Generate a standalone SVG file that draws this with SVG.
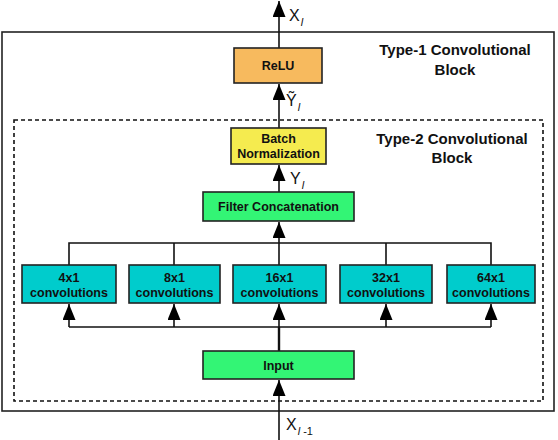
<svg xmlns="http://www.w3.org/2000/svg" width="558" height="440" viewBox="0 0 558 440">
<style>
  .box{stroke:#222;stroke-width:1.6}
  .relu{fill:#F7BA5E}
  .bn{fill:#F5EB4F}
  .green{fill:#33F575}
  .teal{fill:#00CCCC}
  .t{font-family:"Liberation Sans",Arial,sans-serif;font-weight:bold;font-size:12.5px;fill:#111;text-anchor:middle}
  .h{font-family:"Liberation Sans",Arial,sans-serif;font-weight:bold;font-size:15px;fill:#111;text-anchor:middle}
  .lab{font-family:"Liberation Sans",Arial,sans-serif;font-size:16px;fill:#111}
  .sub{font-family:"Liberation Sans",Arial,sans-serif;font-size:11px;font-style:italic;fill:#111}
  .subn{font-family:"Liberation Sans",Arial,sans-serif;font-size:11px;fill:#111}
  .c{stroke:#111;stroke-width:1.6;fill:none}
</style>
<defs>
  <marker id="ah" markerUnits="userSpaceOnUse" markerWidth="17" markerHeight="13" refX="16" refY="6.5" orient="auto" viewBox="0 0 17 13">
    <path d="M0,0 L16,6.5 L0,13 z" fill="#000"/>
  </marker>
</defs>
<rect width="558" height="440" fill="#fff"/>
<g id="outer-block">
  <rect x="2" y="32" width="552" height="379" fill="none" stroke="#222" stroke-width="1.6"/>
  <text class="h" x="455" y="55">Type-1 Convolutional</text>
  <text class="h" x="455" y="75">Block</text>
</g>
<g id="inner-block">
  <rect x="14" y="120" width="529" height="281" fill="none" stroke="#111" stroke-width="1.6" stroke-dasharray="4,3"/>
  <text class="h" x="452" y="144">Type-2 Convolutional</text>
  <text class="h" x="452" y="163">Block</text>
</g>
<g id="connectors">
  <line class="c" x1="279" y1="48" x2="279" y2="1" marker-end="url(#ah)"/>
  <line class="c" x1="279" y1="128" x2="279" y2="84" marker-end="url(#ah)"/>
  <line class="c" x1="279" y1="192" x2="279" y2="165" marker-end="url(#ah)"/>
  <line class="c" x1="279" y1="243" x2="279" y2="222" marker-end="url(#ah)"/>
  <polyline class="c" points="69,265 69,243 491,243 491,265"/>
  <line class="c" x1="174" y1="243" x2="174" y2="265"/>
  <line class="c" x1="279" y1="243" x2="279" y2="265"/>
  <line class="c" x1="386" y1="243" x2="386" y2="265"/>
  <line class="c" x1="69" y1="327" x2="491" y2="327"/>
  <line class="c" x1="69" y1="327" x2="69" y2="304" marker-end="url(#ah)"/>
  <line class="c" x1="174" y1="327" x2="174" y2="304" marker-end="url(#ah)"/>
  <line class="c" x1="279" y1="327" x2="279" y2="304" marker-end="url(#ah)"/>
  <line class="c" x1="386" y1="327" x2="386" y2="304" marker-end="url(#ah)"/>
  <line class="c" x1="491" y1="327" x2="491" y2="304" marker-end="url(#ah)"/>
  <line x1="279" y1="351" x2="279" y2="327" stroke="#111" stroke-width="2.4"/>
  <line class="c" x1="279" y1="440" x2="279" y2="380" marker-end="url(#ah)"/>
</g>
<g id="labels">
  <text class="lab" x="289" y="21">X<tspan class="sub" dx="1" dy="5">l</tspan></text>
  <text class="lab" x="286" y="106">Ỹ<tspan class="sub" dx="1" dy="5">l</tspan></text>
  <text class="lab" x="290" y="184">Y<tspan class="sub" dx="1" dy="5">l</tspan></text>
  <text class="lab" x="286" y="430">X<tspan class="sub" dx="1" dy="5">l</tspan><tspan class="subn"> -1</tspan></text>
</g>
<g id="relu">
  <rect class="box relu" x="234" y="48" width="88" height="35"/>
  <text class="t" x="278" y="70">ReLU</text>
</g>
<g id="batch-norm">
  <rect class="box bn" x="231" y="128" width="95" height="36"/>
  <text class="t" x="278.5" y="143">Batch</text>
  <text class="t" x="278.5" y="158">Normalization</text>
</g>
<g id="filter-concat">
  <rect class="box green" x="203" y="192" width="151" height="29"/>
  <text class="t" x="278.5" y="211">Filter Concatenation</text>
</g>
<g id="conv4">
  <rect class="box teal" x="22" y="265" width="94" height="38"/>
  <text class="t" x="69" y="282">4x1</text>
  <text class="t" x="69" y="297">convolutions</text>
</g>
<g id="conv8">
  <rect class="box teal" x="129" y="265" width="91" height="38"/>
  <text class="t" x="174.5" y="282">8x1</text>
  <text class="t" x="174.5" y="297">convolutions</text>
</g>
<g id="conv16">
  <rect class="box teal" x="233" y="265" width="93" height="38"/>
  <text class="t" x="279.5" y="282">16x1</text>
  <text class="t" x="279.5" y="297">convolutions</text>
</g>
<g id="conv32">
  <rect class="box teal" x="340" y="265" width="92" height="38"/>
  <text class="t" x="386" y="282">32x1</text>
  <text class="t" x="386" y="297">convolutions</text>
</g>
<g id="conv64">
  <rect class="box teal" x="447" y="265" width="88" height="38"/>
  <text class="t" x="491" y="282">64x1</text>
  <text class="t" x="491" y="297">convolutions</text>
</g>
<g id="input">
  <rect class="box green" x="203" y="351" width="151" height="28"/>
  <text class="t" x="278.5" y="370">Input</text>
</g>
</svg>
